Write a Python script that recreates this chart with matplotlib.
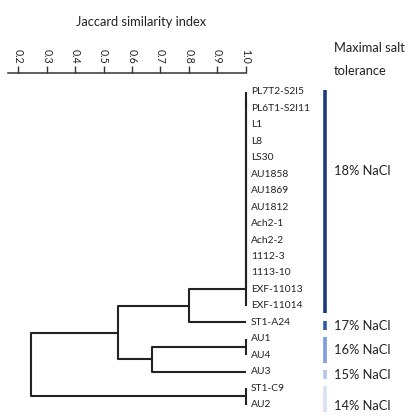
import numpy as np
import matplotlib.pyplot as plt
import matplotlib.transforms as mtransforms

plt.rcParams['font.family'] = ['Lato', 'DejaVu Sans']

leaves = ['PL7T2-S2I5', 'PL6T1-S2I11', 'L1', 'L8', 'LS30', 'AU1858', 'AU1869',
          'AU1812', 'Ach2-1', 'Ach2-2', '1112-3', '1113-10', 'EXF-11013',
          'EXF-11014', 'ST1-A24', 'AU1', 'AU4', 'AU3', 'ST1-C9', 'AU2']

# merges: (left, right, jaccard similarity); ids >= 20 refer to earlier merges
merges = [
    (0, 1, 1.0), (20, 2, 1.0), (21, 3, 1.0), (22, 4, 1.0), (23, 5, 1.0),
    (24, 6, 1.0), (25, 7, 1.0), (26, 8, 1.0), (27, 9, 1.0), (28, 10, 1.0),
    (29, 11, 1.0), (30, 12, 1.0), (31, 13, 1.0),
    (15, 16, 1.0),
    (18, 19, 1.0),
    (32, 14, 0.80),
    (33, 17, 0.67),
    (35, 36, 0.55),
    (37, 34, 0.245),
]

ticks = [0.2, 0.3, 0.4, 0.5, 0.6, 0.7, 0.8, 0.9, 1.0]

# salt tolerance groups: first leaf, last leaf, label, colour
group_first = [0, 14, 15, 17, 18]
group_last = [13, 14, 16, 17, 19]
group_labels = ['18% NaCl', '17% NaCl', '16% NaCl', '15% NaCl', '14% NaCl']
group_colors = ['#1f3a7a', '#2e5aaa', '#7c9cdb', '#b3c6ec', '#d8e2f5']
label_rows = [4.8, 14.2, 15.7, 17.2, 19.1]

fig = plt.figure(figsize=(4.13, 4.19), dpi=100)
ax = fig.add_axes([8 / 413, 0, 237.5 / 413, 1 - 73 / 419])
ax.set_xlim(0.163, 1.0)
ax.set_ylim(19.88, -1.155)

n = len(leaves)
pos = {i: (1.0, float(i)) for i in range(n)}
lc = '#222222'
for k, (a, b, s) in enumerate(merges):
    xa, ya = pos[a]
    xb, yb = pos[b]
    ax.plot([xa, s, s, xb], [ya, ya, yb, yb], color=lc, lw=1.5,
            solid_capstyle='butt', clip_on=False)
    pos[n + k] = (s, (ya + yb) / 2)

for i, name in enumerate(leaves):
    ax.annotate(name, (1.0, i), xytext=(4, 0), textcoords='offset points',
                va='center', ha='left', fontsize=7.4, color='#222222',
                annotation_clip=False)

for sp in ['left', 'right', 'bottom']:
    ax.spines[sp].set_visible(False)
ax.spines['top'].set_linewidth(1.1)
ax.spines['top'].set_color('#333333')
ax.set_yticks([])
ax.xaxis.tick_top()
ax.set_xticks(ticks)
ax.set_xticklabels([f'{t:.1f}' for t in ticks])
ax.tick_params(axis='x', direction='out', length=5, width=1.0, color='#333333',
               labelsize=7.6, labelcolor='#222222', pad=1.5, labelrotation=-90)

fig.text(141 / 413, 1 - 22 / 419, 'Jaccard similarity index', ha='center',
         va='center', fontsize=9.3, color='#222222')

tr = mtransforms.blended_transform_factory(fig.transFigure, ax.transData)
for f, l, lab, col, row in zip(group_first, group_last, group_labels,
                               group_colors, label_rows):
    ax.plot([325 / 413, 325 / 413], [f - 0.1, l + 0.45], transform=tr,
            color=col, lw=2.6, solid_capstyle='butt', clip_on=False)
    ax.text(334 / 413, row, lab, transform=tr, ha='left', va='center',
            fontsize=9.3, color='#222222')

fig.text(334 / 413, 1 - 48 / 419, 'Maximal salt', ha='left',
         va='center', fontsize=9.3, color='#222222')
fig.text(334 / 413, 1 - 71 / 419, 'tolerance', ha='left',
         va='center', fontsize=9.3, color='#222222')

fig.savefig('out.png', dpi=100)
